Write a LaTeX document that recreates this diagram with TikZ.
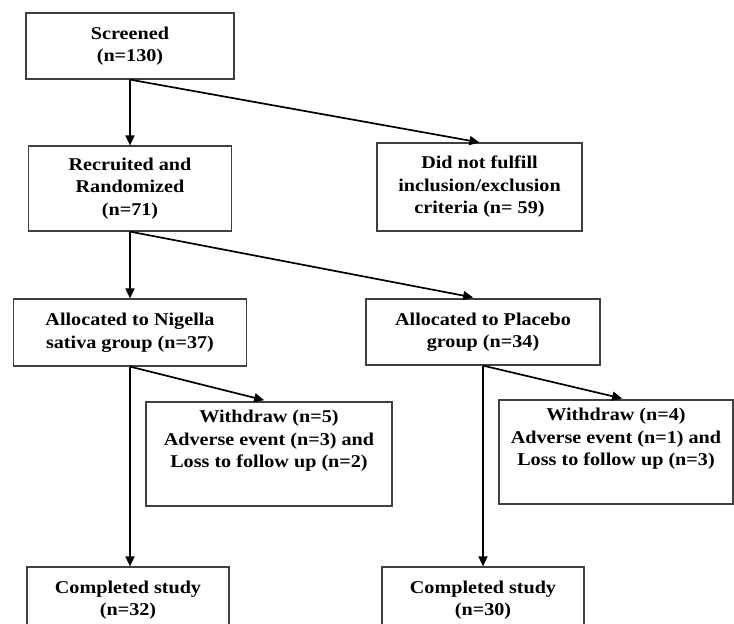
\documentclass[tikz,border=0pt]{standalone}
\usepackage{fontspec}
\setmainfont[FakeStretch=1.12]{Liberation Serif}
\usetikzlibrary{arrows.meta}

\begin{document}
\begin{tikzpicture}[x=1pt, y=-1pt,
  box/.style={draw=black!75, line width=1.2pt, align=center, inner sep=0pt,
    font=\bfseries\fontsize{18}{22.5}\selectfont},
  arrow/.style={line width=1.7pt, -{Triangle[length=10pt, width=9pt]}}]

\useasboundingbox (0,0) rectangle (734,624);
\clip (0,0) rectangle (734,624);

%Box Drawing

\node [box, minimum width=208pt, minimum height=66pt] (screen) at (130,46) {Screened\\(n=130)};
\node [box, minimum width=203pt, minimum height=85pt] (recruit) at (130,188.5) {Recruited and\\Randomized\\(n=71)};
\node [box, minimum width=205pt, minimum height=88pt] (exclude) at (479.5,187) {Did not fulfill\\inclusion/exclusion\\criteria (n= 59)};

\node [box, minimum width=233pt, minimum height=67pt] (nigella) at (130,332.5) {Allocated to Nigella\\sativa group (n=37)};
\node [box, minimum width=234pt, minimum height=66pt] (placebo) at (483,332) {Allocated to Placebo\\group (n=34)};

\node [box, minimum width=246pt, minimum height=104pt, text depth=30pt] (withdrawN) at (269,454) {Withdraw (n=5)\\Adverse event (n=3) and\\Loss to follow up (n=2)};
\node [box, minimum width=234pt, minimum height=104pt, text depth=30pt] (withdrawP) at (616,452) {Withdraw (n=4)\\Adverse event (n=1) and\\Loss to follow up (n=3)};

\node [box, minimum width=202pt, minimum height=66pt] (completeN) at (128,600) {Completed study\\(n=32)};
\node [box, minimum width=202pt, minimum height=66pt] (completeP) at (483,600) {Completed study\\(n=30)};

%Arrow Drawings

\draw [arrow] (screen.south) -- (screen.south |- recruit.north);
\draw [arrow] (screen.south) -- (exclude.north);

\draw [arrow] (recruit.south) -- (recruit.south |- nigella.north);
\draw [arrow, shorten >=5pt] (recruit.south) -- ([xshift=-5pt]placebo.north);

\draw [arrow] (nigella.south) -- (nigella.south |- completeN.north);
\draw [arrow, shorten >=5pt] (nigella.south) -- (withdrawN.north);

\draw [arrow] (placebo.south) -- (placebo.south |- completeP.north);
\draw [arrow, shorten >=4pt] (placebo.south) -- ([xshift=10pt]withdrawP.north);

\end{tikzpicture}
\end{document}
